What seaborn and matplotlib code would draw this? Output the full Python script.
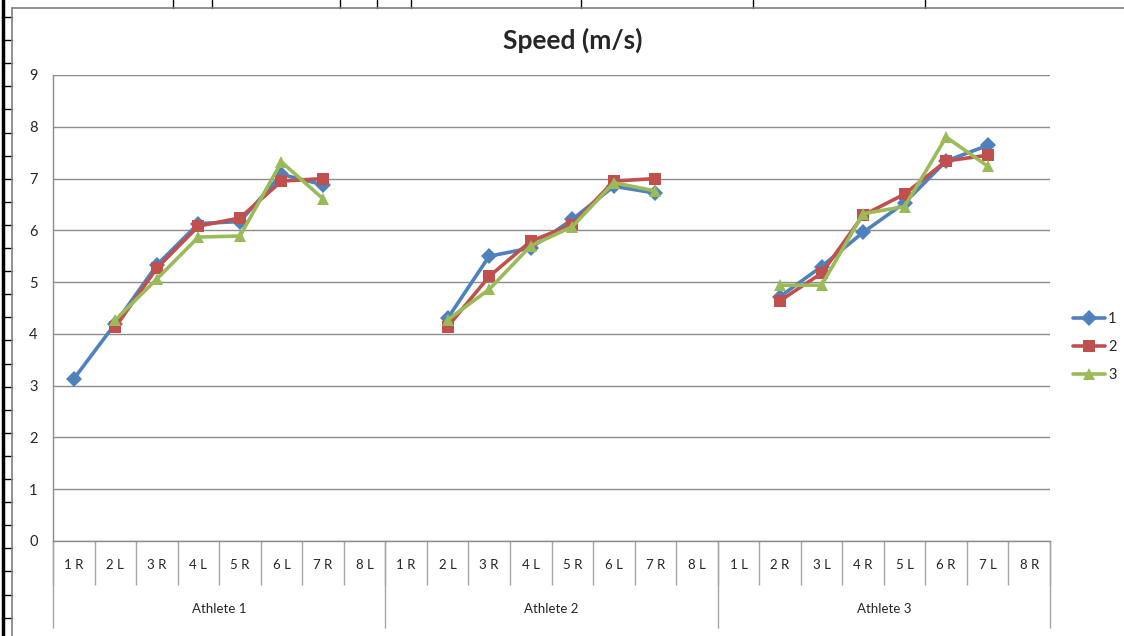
import numpy as np
import pandas as pd
import matplotlib.pyplot as plt
from matplotlib.lines import Line2D
import seaborn as sns

# categories (two-level axis)
athletes = ['Athlete 1', 'Athlete 2', 'Athlete 3']
steps_a1 = ['1 R', '2 L', '3 R', '4 L', '5 R', '6 L', '7 R', '8 L']
steps_a2 = ['1 R', '2 L', '3 R', '4 L', '5 R', '6 L', '7 R', '8 L']
steps_a3 = ['1 L', '2 R', '3 L', '4 R', '5 L', '6 R', '7 L', '8 R']

nan = np.nan
# speed values (m/s) per series, one list per athlete
s1_a1 = [3.13, 4.20, 5.33, 6.13, 6.17, 7.08, 6.88, nan]
s1_a2 = [nan, 4.30, 5.50, 5.66, 6.21, 6.85, 6.72, nan]
s1_a3 = [nan, 4.72, 5.30, 5.96, 6.53, 7.34, 7.64, nan]
s2_a1 = [nan, 4.13, 5.27, 6.08, 6.24, 6.95, 7.00, nan]
s2_a2 = [nan, 4.14, 5.11, 5.79, 6.11, 6.95, 7.00, nan]
s2_a3 = [nan, 4.64, 5.17, 6.29, 6.70, 7.34, 7.45, nan]
s3_a1 = [nan, 4.27, 5.06, 5.87, 5.89, 7.32, 6.61, nan]
s3_a2 = [nan, 4.27, 4.86, 5.70, 6.07, 6.92, 6.76, nan]
s3_a3 = [nan, 4.94, 4.94, 6.32, 6.46, 7.80, 7.24, nan]

series = {'1': [s1_a1, s1_a2, s1_a3],
          '2': [s2_a1, s2_a2, s2_a3],
          '3': [s3_a1, s3_a2, s3_a3]}

rows = []
for name, per_ath in series.items():
    pos = 0
    for a, vals in enumerate(per_ath):
        for i, v in enumerate(vals):
            rows.append({'pos': pos + i, 'athlete': athletes[a], 'series': name, 'speed': v})
        pos += len(vals)
df = pd.DataFrame(rows).dropna()

labels = steps_a1 + steps_a2 + steps_a3
n = len(labels)

sns.set_style('white')
plt.rcParams['font.family'] = ['Lato', 'DejaVu Sans']

fig = plt.figure(figsize=(11.24, 6.36), dpi=100)
ax = fig.add_axes([53 / 1124, 95 / 636, 997 / 1124, 466 / 636])

palette = {'1': '#4F81BD', '2': '#C0504D', '3': '#9BBB59'}
markers = {'1': 'D', '2': 's', '3': '^'}
sns.lineplot(data=df, x='pos', y='speed', hue='series', style='series',
             units='athlete', estimator=None, palette=palette, markers=markers,
             dashes=False, lw=2.6, markersize=8.5, markeredgewidth=0, ax=ax)

ax.set_xlim(-0.5, n - 0.5)
ax.set_ylim(0, 9)
ax.set_yticks(range(10))
ax.yaxis.grid(True, color='#8c8c8c', lw=1)
ax.set_axisbelow(True)
ax.set_xlabel('')
ax.set_ylabel('')
for s in ['top', 'right']:
    ax.spines[s].set_visible(False)
for s in ['left', 'bottom']:
    ax.spines[s].set_color('#8c8c8c')
    ax.spines[s].set_linewidth(1)
ax.tick_params(axis='y', length=4, color='#8c8c8c', labelsize=10.5, pad=7)

ax.set_xticks(range(n), labels=labels)
ax.tick_params(axis='x', length=0, labelsize=9.5, pad=17)
for t in ax.get_xticklabels():
    t.set_va('center')

tr = ax.get_xaxis_transform()
ph = 466
ax.vlines(np.arange(-0.5, n, 1), -44 / ph, 0, transform=tr, colors='#a6a6a6', lw=1, clip_on=False)
ax.vlines([-0.5, 7.5, 15.5, 23.5], -87 / ph, 0, transform=tr, colors='#a6a6a6', lw=1, clip_on=False)
for a, name in enumerate(athletes):
    ax.text(a * 8 + 3.5, -68 / ph, name, transform=tr, ha='center', va='center', fontsize=9.5)

handles, labs = ax.get_legend_handles_labels()
ax.legend(handles=handles, labels=labs, loc='center left', bbox_to_anchor=(1.023, 0.416),
          frameon=False, fontsize=10.5, labelspacing=0.95, handlelength=2.2,
          handletextpad=0.2, borderpad=0, borderaxespad=0, title=None)

fig.text(573 / 1124, 1 - 40 / 636, 'Speed (m/s)', ha='center', va='center',
         fontsize=19, fontweight='bold')

# spreadsheet background behind the chart
W, H = 1124, 636
def px_line(x0, y0, x1, y1, **kw):
    fig.add_artist(Line2D([x0 / W, x1 / W], [1 - y0 / H, 1 - y1 / H], transform=fig.transFigure, **kw))

px_line(3, 0, 3, H, color='black', lw=2.5)
for y in np.arange(17, H, 23.1):
    px_line(3, y, 12, y, color='black', lw=1)
for x in [173, 212, 340, 377, 411, 581, 753, 925]:
    px_line(x, 0, x, 8, color='black', lw=1)
px_line(12, 8, W, 8, color='#7f7f7f', lw=1.2)
px_line(12, 8, 12, H, color='#7f7f7f', lw=1.2)

fig.savefig('out.png', dpi=100)
